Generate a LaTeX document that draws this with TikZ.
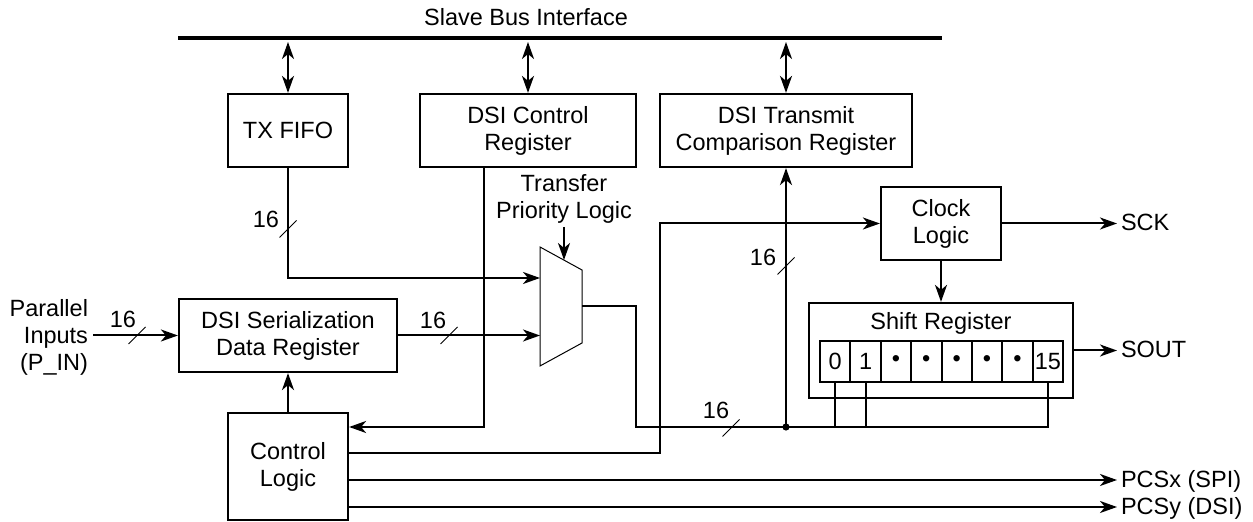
\documentclass[tikz,border=0pt]{standalone}
\usepackage{fontspec}
\setmainfont{Liberation Sans}
\usetikzlibrary{arrows.meta,calc}
\tikzset{
  blk/.style={draw, line width=1.1pt, align=center, inner sep=0pt},
  cell/.style={draw, line width=1pt, inner sep=0pt,
               minimum width=15.19pt, minimum height=20.5pt},
  arr/.style={-{Stealth[length=8.5pt, width=6pt, inset=2.5pt]}},
  dbl/.style={{Stealth[length=8.5pt, width=6pt, inset=2.5pt]}-{Stealth[length=8.5pt, width=6pt, inset=2.5pt]}},
  outlbl/.style={anchor=west, inner sep=1.5pt, text height=0.72em, text depth=0pt},
  wlbl/.style={inner sep=0pt, text height=0.72em, text depth=0pt},
  wsl/.pic={\draw[line width=0.5pt] (-8.5,8.5) -- (8.5,-8.5);},
}

\begin{document}
\begin{tikzpicture}[x=0.5pt, y=-0.5pt, line width=1pt,
                    font=\fontsize{11.75}{13.5}\selectfont]
\useasboundingbox (0,0) rectangle (1253,522);

% --- bus ---
\coordinate (busl) at (178,38);
\coordinate (busr) at (942,38);
\draw[line width=2pt] (busl) -- (busr);
\node[wlbl] (bustxt) at (526,18) {Slave Bus Interface};

% --- registers ---
\node[blk, minimum width=60pt, minimum height=36.5pt] (txfifo) at (288,130.5) {TX FIFO};
\node[blk, minimum width=108pt, minimum height=36.5pt] (dsictrl) at (528,130.5) {DSI Control\\Register};
\node[blk, minimum width=126pt, minimum height=36.5pt] (dsitx) at (786,130.5) {DSI Transmit\\Comparison Register};
\node[blk, minimum width=60pt, minimum height=36.5pt] (clk) at (941,223.5) {Clock\\Logic};
\node[blk, minimum width=109pt, minimum height=36.5pt] (ser) at (288,335.5) {DSI Serialization\\Data Register};
\node[blk, minimum width=60pt, minimum height=53.5pt] (ctl) at (288,466.5) {Control\\Logic};

\draw[dbl, shorten <=2pt] (txfifo.north |- busl) -- (txfifo.north);
\draw[dbl, shorten <=2pt] (dsictrl.north |- busl) -- (dsictrl.north);
\draw[dbl, shorten <=2pt] (dsitx.north |- busl) -- (dsitx.north);

% --- shift register ---
\node[blk, minimum width=132pt, minimum height=47.5pt] (shift) at (941,350.5) {};
\node (shtxt) at (941,323) {Shift Register};
\foreach \i/\t in {0/0, 1/1, 2/\textbullet, 3/\textbullet, 4/\textbullet,
                   5/\textbullet, 6/\textbullet, 7/15}
  \node[cell] (c\i) at ({820+30.375*(\i+0.5)},361.5) {\t};

% --- mux ---
\coordinate (muxa) at (540,278);
\coordinate (muxb) at (540,335.5);
\coordinate (muxt) at (564,260);
\coordinate (muxo) at (582,306);
\draw[line width=0.5pt] (540,247) -- (582,270) -- (582,343) -- (540,366) -- cycle;
\node[align=center, inner sep=1.5pt] (tpl) at (564,198.5) {Transfer\\Priority Logic};
\draw[arr] (tpl.south) -- (muxt);

% --- data paths ---
\node[align=right, anchor=east, inner sep=2pt] (pin) at (93,337) {Parallel\\Inputs\\(P\_IN)};
\draw[arr] (pin.east |- ser.west) -- (ser.west);
\pic at (137,335.5) {wsl};
\node[wlbl] (w1) at (123,320) {16};

\draw[arr] (txfifo.south) |- (muxa);
\pic at (288,229) {wsl};
\node[wlbl] (w2) at (266,220) {16};

\draw[arr] (ser.east) -- (muxb);
\pic at (449,335.5) {wsl};
\node[wlbl] (w3) at (433,321) {16};

\coordinate (jn) at (786,427);
\draw (muxo) -| (636,427) -- (c7.south |- jn) -- (c7.south);
\draw (c0.south) -- (c0.south |- jn);
\draw (c1.south) -- (c1.south |- jn);
\fill (jn) circle (1.8pt);
\pic at (731,428) {wsl};
\node[wlbl] (w4) at (716,411) {16};

\draw[arr] (jn) -- (dsitx.south);
\pic at (786,266) {wsl};
\node[wlbl] (w5) at (763,258) {16};

% --- control ---
\draw[arr] ($(dsictrl.south)+(-44,0)$) |- ($(ctl.east)+(0,-39.5)$);
\draw[arr] (ctl.north) -- (ser.south);
\coordinate (ckturn) at (660,223.5);
\draw[arr] ($(ctl.east)+(0,-13.5)$) -| (ckturn) -- (clk.west);
\draw[arr] (clk.south) -- (shift.north);

% --- outputs ---
\node[outlbl] (sck) at (1117,223.5) {SCK};
\node[outlbl] (sout) at (1117,350.5) {SOUT};
\node[outlbl] (pcsx) at (1117,480) {PCSx (SPI)};
\node[outlbl] (pcsy) at (1117,507) {PCSy (DSI)};
\draw[arr] (clk.east) -- (sck.west);
\draw[arr] (shift.east) -- (sout.west);
\draw[arr] ($(ctl.east)+(0,13.5)$) -- (pcsx.west);
\draw[arr] ($(ctl.east)+(0,40.5)$) -- (pcsy.west);

\end{tikzpicture}
\end{document}
